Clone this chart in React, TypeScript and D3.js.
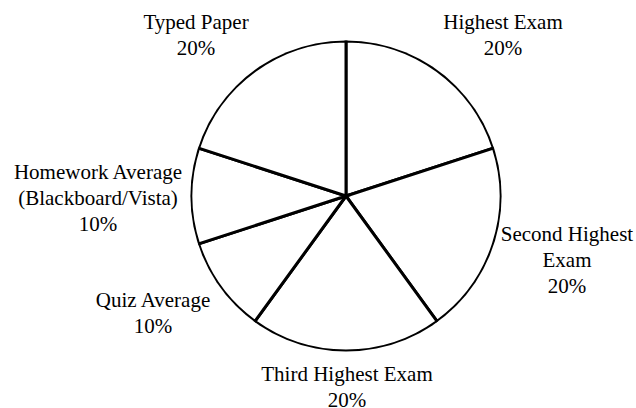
import React from "react";
import * as d3 from "d3";

// grade weights, clockwise from 12 o'clock
const categories = [
  "Highest Exam",
  "Second Highest Exam",
  "Third Highest Exam",
  "Quiz Average",
  "Homework Average (Blackboard/Vista)",
  "Typed Paper",
];
const weights = [20, 20, 20, 10, 10, 20];

// how each label breaks into lines
const labelLines = [
  ["Highest Exam"],
  ["Second Highest", "Exam"],
  ["Third Highest Exam"],
  ["Quiz Average"],
  ["Homework Average", "(Blackboard/Vista)"],
  ["Typed Paper"],
];

// label anchors (center x, first baseline), layout only
const labelPos: [number, number][] = [
  [503, 29],
  [567, 241],
  [347, 381],
  [153, 307],
  [98, 179],
  [196, 29],
];

const width = 636;
const height = 408;
const cx = 346;
const cy = 196;
const radius = 155;
const lineH = 25.8;

type Slice = { name: string; value: number; lines: string[] };

const App = () => {
  const data: Slice[] = categories.map((c, i) => ({
    name: c,
    value: weights[i],
    lines: labelLines[i],
  }));

  const pie = d3
    .pie<Slice>()
    .sort(null)
    .value((d) => d.value);
  const arc = d3.arc<d3.PieArcDatum<Slice>>().innerRadius(0).outerRadius(radius);
  const arcs = pie(data);

  return (
    <svg width={width} height={height} style={{ position: "absolute", left: 0, top: 0 }}>
      <defs>
        {/* clip the outer half of the rim so spokes read heavier than the circle */}
        <clipPath id="pieClip">
          <circle cx={0} cy={0} r={radius + 0.6} />
        </clipPath>
      </defs>
      <g transform={`translate(${cx}, ${cy})`} clipPath="url(#pieClip)">
        {arcs.map((a) => (
          <path key={a.data.name} d={arc(a) ?? ""} fill="#fff" stroke="#000" strokeWidth={3} />
        ))}
      </g>
      {data.map((d, i) =>
        [...d.lines, `${d.value}%`].map((t, j) => (
          <text
            key={`${d.name}-${j}`}
            x={labelPos[i][0]}
            y={labelPos[i][1] + j * lineH}
            textAnchor="middle"
            fill="#000"
            style={{ fontFamily: "'Liberation Serif'", fontSize: 21 }}
          >
            {t}
          </text>
        ))
      )}
    </svg>
  );
};

export default App;
